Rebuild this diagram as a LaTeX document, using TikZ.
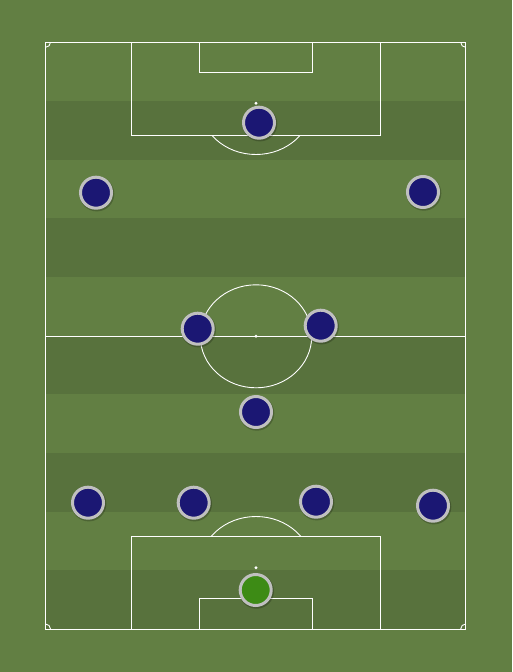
\documentclass[tikz,border=0pt]{standalone}
\usetikzlibrary{calc}
\definecolor{grassL}{RGB}{98,127,67}
\definecolor{grassD}{RGB}{88,114,61}
\definecolor{navy}{RGB}{27,23,115}
\definecolor{gkgreen}{RGB}{61,139,21}
\definecolor{rim}{RGB}{192,192,192}
\tikzset{
  pline/.style={draw=white, line width=0.9pt},
  player/.style={circle, draw=rim, line width=3pt, fill=navy, minimum size=31pt, inner sep=0pt},
  keeper/.style={player, fill=gkgreen},
  shadow/.style={circle, fill=black, fill opacity=0.22, minimum size=35pt, inner sep=0pt},
  spot/.style={circle, fill=white, minimum size=3.2pt, inner sep=0pt}
}
\begin{document}
\begin{tikzpicture}[x=1pt,y=-1pt]
\useasboundingbox (0,0) rectangle (512,672);
\fill[grassL] (0,0) rectangle (512,672);
% stripes
\foreach \i in {1,3,5,7,9} {
  \fill[grassD] (45.5,{42.3+\i*58.67}) rectangle (465.7,{42.3+(\i+1)*58.67});
}
% outline
\draw[pline] (45.5,42.3) rectangle (465.7,629);
\draw[pline] (45.5,336.3) -- (465.7,336.3);
% boxes
\draw[pline] (131.3,42.3) -- (131.3,135) -- (380.7,135) -- (380.7,42.3);
\draw[pline] (199.3,42.3) -- (199.3,72.7) -- (312.7,72.7) -- (312.7,42.3);
\draw[pline] (131.3,629) -- (131.3,536) -- (380.7,536) -- (380.7,629);
\draw[pline] (199.3,629) -- (199.3,598.3) -- (312.7,598.3) -- (312.7,629);
% centre circle
\draw[pline] (256,336.3) ellipse [x radius=55.7pt, y radius=51.5pt];
\node[spot] (cs) at (256,336.3) {};
\node[spot] (ps1) at (256,103.3) {};
\node[spot] (ps2) at (256,567.7) {};
% D arcs
\begin{scope}
\clip (45,135.4) rectangle (466,200);
\draw[pline] (256,103.3) ellipse [x radius=56.6pt, y radius=51.2pt];
\end{scope}
\begin{scope}
\clip (45,470) rectangle (466,535.6);
\draw[pline] (256,567.7) ellipse [x radius=56.6pt, y radius=51.2pt];
\end{scope}
% corner arcs
\begin{scope}
\clip (45.5,42.3) rectangle (465.7,629);
\foreach \cx/\cy in {45.5/42.3, 465.7/42.3, 45.5/629, 465.7/629} {
  \draw[pline] (\cx,\cy) circle [radius=5pt];
}
\end{scope}
% players
\foreach \n/\px/\py in {a/259/122.7, b/96/192.7, c/423/192, d/197.7/328.7, e/320.7/325.7, f/256/412, g/88/502.7, h/193.7/502.7, i/316/501.7, j/433/505.7, k/255.7/590} {
  \node[shadow] (s\n) at (\px+0.8,\py+1.2) {};
}
\node[player] (a) at (259,122.7) {};
\node[player] (b) at (96,192.7) {};
\node[player] (c) at (423,192) {};
\node[player] (d) at (197.7,328.7) {};
\node[player] (e) at (320.7,325.7) {};
\node[player] (f) at (256,412) {};
\node[player] (g) at (88,502.7) {};
\node[player] (h) at (193.7,502.7) {};
\node[player] (i) at (316,501.7) {};
\node[player] (j) at (433,505.7) {};
\node[keeper] (k) at (255.7,590) {};
\end{tikzpicture}
\end{document}
